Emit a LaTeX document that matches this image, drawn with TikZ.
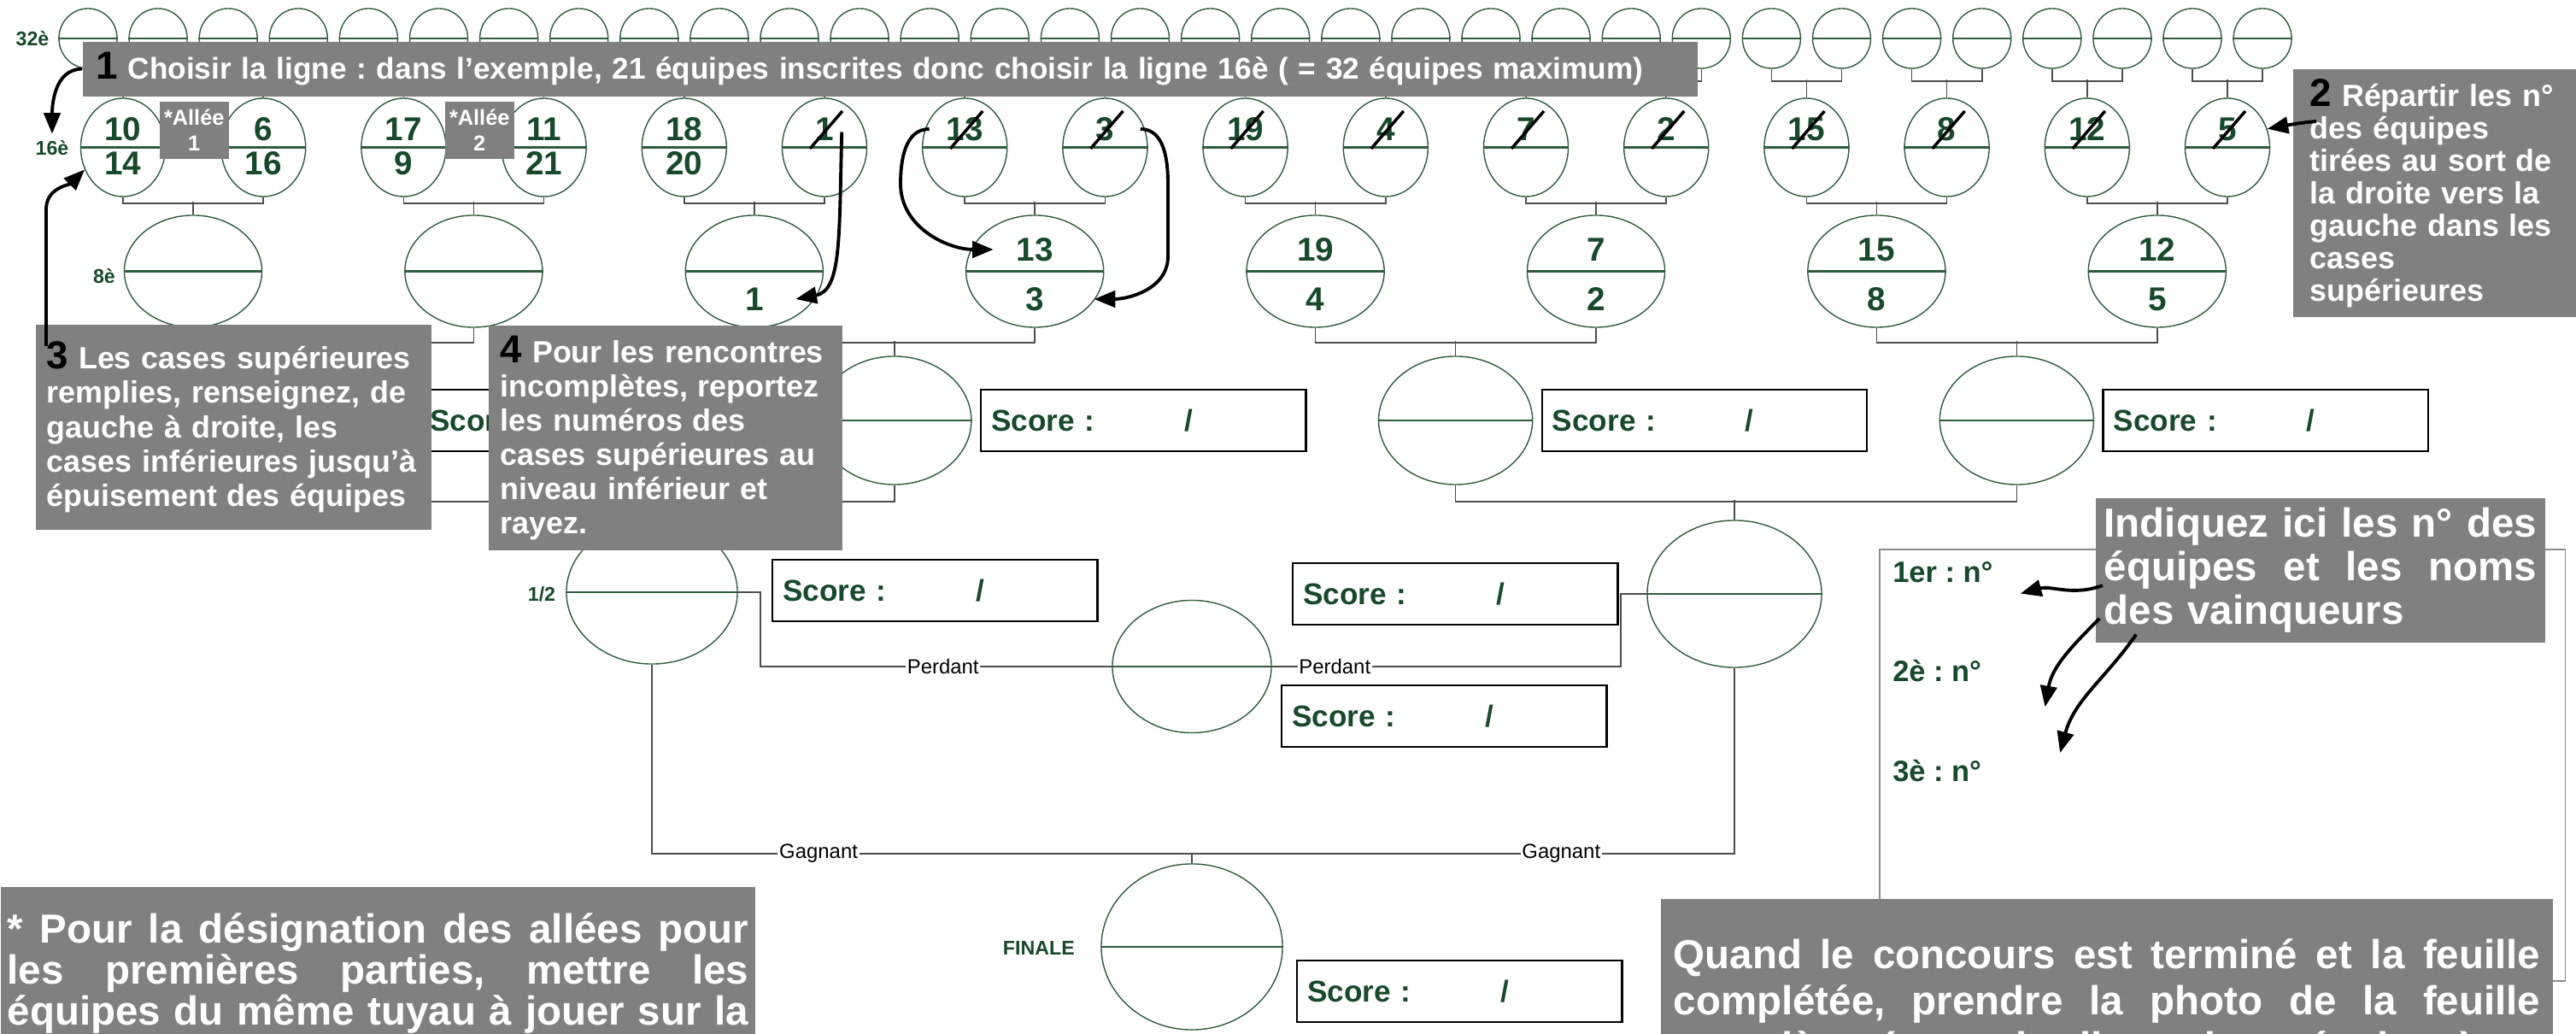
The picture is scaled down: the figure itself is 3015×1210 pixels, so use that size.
\documentclass[tikz,border=0pt]{standalone}
\usepackage{fontspec}
\setmainfont{Liberation Sans}
\usepackage{xcolor}
\usepackage{tikz}
\usetikzlibrary{shapes.geometric,arrows.meta,calc}
\frenchspacing

\definecolor{vert}{HTML}{17492A}
\definecolor{trait}{HTML}{2E5C3C}
\definecolor{fond}{HTML}{808080}
\newcommand{\chiffre}[1]{{\fontsize{13}{13}\selectfont\color{black}#1}}
\newcommand{\jl}[2]{\noindent\hbox to #1{\spaceskip=0.278em plus 1fil\relax #2}}

\tikzset{
  oeuf/.style={draw=trait,line width=0.4pt,ellipse,inner sep=0pt},
  lien/.style={draw=black!70,line width=0.45pt},
  num/.style={text=vert,font=\fontsize{11}{11}\selectfont\bfseries,inner sep=0.5pt},
  tour/.style={text=vert,font=\fontsize{6.6}{7}\selectfont\bfseries,inner sep=1pt},
  rang/.style={text=vert,font=\fontsize{9.8}{10}\selectfont\bfseries,inner sep=1pt,anchor=west},
  note/.style={fill=fond,text=white,font=\fontsize{10.2}{11}\selectfont\bfseries,align=left,anchor=north west},
  scorebox/.style={draw=black,line width=0.7pt,minimum width=3.8cm,minimum height=0.72cm,anchor=west,
    inner xsep=0.12cm,text width=3.56cm,align=left,text=vert,font=\fontsize{10}{10}\selectfont\bfseries},
  lab/.style={fill=white,font=\fontsize{6.8}{7}\selectfont,inner sep=0.5pt},
  rature/.style={line width=1pt,black},
  fleche/.style={->,line width=1.1pt,black}
}

\begin{document}
\begin{tikzpicture}[x=0.01cm,y=-0.01cm,>={Triangle[length=7pt,width=5.5pt]}]
\useasboundingbox (0,0) rectangle (3015,1210);
\clip (0,0) rectangle (3015,1210);

% les cases
\foreach \i in {0,...,31}
  \node[oeuf,minimum width=0.68cm,minimum height=0.7cm] (e32-\i) at (103+82.1*\i,45) {};
\foreach \k in {0,...,15}
  \node[oeuf,minimum width=0.99cm,minimum height=1.15cm] (e16-\k) at (144+164.2*\k,172.5) {};
\foreach \k in {0,...,7}
  \node[oeuf,minimum width=1.61cm,minimum height=1.31cm] (e8-\k) at (226+328.4*\k,317.5) {};
\foreach \k in {0,...,3}
  \node[oeuf,minimum width=1.8cm,minimum height=1.5cm] (e4-\k) at (390+656.8*\k,492) {};
\node[oeuf,minimum width=2cm,minimum height=1.68cm] (demi1) at (763,693) {};
\node[oeuf,minimum width=2.04cm,minimum height=1.72cm] (demi2) at (2030,695) {};
\node[oeuf,minimum width=1.86cm,minimum height=1.55cm] (petite) at (1395,780) {};
\node[oeuf,minimum width=2.12cm,minimum height=1.94cm] (finale) at (1395,1108) {};

\foreach \i in {0,...,31} \draw[trait,line width=0.6pt] (e32-\i.west) -- (e32-\i.east);
\foreach \k in {0,...,15} \draw[trait,line width=0.6pt] (e16-\k.west) -- (e16-\k.east);
\foreach \k in {0,...,7} \draw[trait,line width=0.6pt] (e8-\k.west) -- (e8-\k.east);
\foreach \k in {0,...,3} \draw[trait,line width=0.6pt] (e4-\k.west) -- (e4-\k.east);
\foreach \n in {demi1,demi2,petite,finale} \draw[trait,line width=0.6pt] (\n.west) -- (\n.east);

% les liens
\foreach \k [evaluate=\k as \ga using int(2*\k), evaluate=\k as \dr using int(2*\k+1)] in {0,...,15}{
  \draw[lien] (e32-\ga.south) -- ++(0,14) -| (e32-\dr.south);
  \draw[lien] (e16-\k.north) -- ++(0,-21);
}
\foreach \k [evaluate=\k as \ga using int(2*\k), evaluate=\k as \dr using int(2*\k+1)] in {0,...,7}{
  \draw[lien] (e16-\ga.south) -- ++(0,7) -| (e16-\dr.south);
  \draw[lien] (e8-\k.north) -- ++(0,-15);
}
\foreach \k [evaluate=\k as \ga using int(2*\k), evaluate=\k as \dr using int(2*\k+1)] in {0,...,3}{
  \draw[lien] (e8-\ga.south) -- ++(0,17) -| (e8-\dr.south);
  \draw[lien] (e4-\k.north) -- ++(0,-17);
}
\draw[lien] (e4-0.south) -- ++(0,19) -| (e4-1.south);
\draw[lien] (e4-2.south) -- ++(0,19) -| (e4-3.south);
\draw[lien] (demi1.north) -- ++(0,-23);
\draw[lien] (demi2.north) -- ++(0,-23);
\draw[lien] (demi1.east) -- ++(26,0) |- node[lab,pos=0.76] (perd1) {Perdant} (petite.west);
\draw[lien] (demi2.west) -- ++(-30,0) |- node[lab,pos=0.91] (perd2) {Perdant} (petite.east);
\draw[lien] (demi1.south) -- ++(0,221) -| node[lab,pos=0.077] (gagn1) {Gagnant}
  node[lab,pos=0.42] (gagn2) {Gagnant} (demi2.south);
\draw[lien] (finale.north) -- ++(0,-12);

% numeros
\foreach \k/\haut/\bas in {0/10/14,1/6/16,2/17/9,3/11/21,4/18/20}{
  \node[num] (h16-\k) at (144+164.2*\k,151) {\haut};
  \node[num] (b16-\k) at (144+164.2*\k,191) {\bas};
}
\foreach \k/\haut in {5/1,6/13,7/3,8/19,9/4,10/7,11/2,12/15,13/8,14/12,15/5}{
  \node[num] (h16-\k) at (144+164.2*\k,151) {\haut};
  \draw[rature] (144+164.2*\k-17,174) -- (144+164.2*\k+21,130);
}
\node[num] (b8-2) at (883,350) {1};
\foreach \k/\haut/\bas in {3/13/3,4/19/4,5/7/2,6/15/8,7/12/5}{
  \node[num] (h8-\k) at (226+328.4*\k,292) {\haut};
  \node[num] (b8-\k) at (226+328.4*\k,350) {\bas};
}

\node[tour] (t32) at (38,45) {32è};
\node[tour] (t16) at (61,173) {16è};
\node[tour] (t8) at (122,323) {8è};
\node[tour] (tdemi) at (634,695) {1/2};
\node[tour,anchor=east] (tfin) at (1262,1110) {FINALE};

% scores
\foreach \k in {0,...,3}
  \node[scorebox] (sc\k) at ($(e4-\k)+(100,0)$) {\makebox[2.26cm][l]{Score :}/};
\node[scorebox] (scd1) at (903,691) {\makebox[2.26cm][l]{Score :}/};
\node[scorebox] (scd2) at (1512,695) {\makebox[2.26cm][l]{Score :}/};
\node[scorebox] (scpf) at (1499,838) {\makebox[2.26cm][l]{Score :}/};
\node[scorebox] (scf) at (1517,1160) {\makebox[2.26cm][l]{Score :}/};

% resultats
\node[draw=black!45,line width=0.5pt,minimum width=8.02cm,minimum height=5.05cm,anchor=north west] (res) at (2199,642) {};
\node[rang] (r1) at (2211,670) {1er : n°};
\node[rang] (r2) at (2211,785) {2è : n°};
\node[rang] (r3) at (2211,902) {3è : n°};

% les consignes
\node[note,align=center,font=\fontsize{7.2}{8.6}\selectfont\bfseries,minimum width=0.81cm,minimum height=0.67cm,inner sep=0pt] (allee1) at (186,118) {*Allée\\1};
\node[note,align=center,font=\fontsize{7.2}{8.6}\selectfont\bfseries,minimum width=0.81cm,minimum height=0.67cm,inner sep=0pt] (allee2) at (520,118) {*Allée\\2};
\node[note,minimum width=18.89cm,minimum height=0.64cm,inner xsep=0.16cm,text width=18.57cm,font=\fontsize{10}{11}\selectfont\bfseries] (etape1) at (96,48)
  {\chiffre{1} Choisir la ligne : dans l’exemple, 21 équipes inscrites donc choisir la ligne 16è ( = 32 équipes maximum)};
\node[note,minimum width=3.32cm,minimum height=2.82cm,inner xsep=0.2cm,text width=2.92cm,font=\fontsize{10.2}{10.8}\selectfont\bfseries] (etape2) at (2683,80)
  {\chiffre{2} Répartir les n°\\des équipes\\tirées au sort de\\la droite vers la\\gauche dans les\\cases\\supérieures};
\node[note,minimum width=4.63cm,minimum height=2.4cm,inner xsep=0.13cm,text width=4.37cm,font=\fontsize{10.2}{11.5}\selectfont\bfseries] (etape3) at (41,379)
  {\chiffre{3} Les cases supérieures\\remplies, renseignez, de\\gauche à droite, les\\cases inférieures jusqu’à\\épuisement des équipes};
\node[note,minimum width=4.14cm,minimum height=2.63cm,inner xsep=0.14cm,text width=3.86cm,font=\fontsize{10.2}{11.4}\selectfont\bfseries] (etape4) at (571,380)
  {\chiffre{4} Pour les rencontres\\incomplètes, reportez\\les numéros des\\cases supérieures au\\niveau inférieur et\\rayez.};
\node[note,minimum width=5.26cm,minimum height=1.65cm,inner xsep=0.1cm,text width=5.06cm,font=\fontsize{13.5}{14.5}\selectfont\bfseries] (indiq) at (2452,582)
  {\jl{5.06cm}{Indiquez ici les n° des}\\\jl{5.06cm}{équipes et les noms}\\des vainqueurs};
\node[note,minimum width=8.83cm,minimum height=2.02cm,inner xsep=0.08cm,text width=8.67cm,font=\fontsize{13.5}{13.7}\selectfont\bfseries] (allees) at (0,1037)
  {\jl{8.67cm}{* Pour la désignation des allées pour}\\\jl{8.67cm}{les premières parties, mettre les}\\\jl{8.67cm}{équipes du même tuyau à jouer sur la}};
\node[note,minimum width=10.44cm,minimum height=2.46cm,inner xsep=0.15cm,text width=10.14cm,font=\fontsize{13.5}{15.4}\selectfont\bfseries] (photo) at (1943,1051)
  {\jl{10.14cm}{Quand le concours est terminé et la feuille}\\\jl{10.14cm}{complétée, prendre la photo de la feuille}\\\jl{10.14cm}{complète (avec la liste des résultats) et}};

% fleches
\draw[fleche] (etape1.west) to[out=180,in=90] ([yshift=1pt]t16.north);
\draw[fleche] ($(etape2.north west)+(28,62)$) to[out=185,in=10] (e16-15.25);
\draw[fleche] ($(etape3.north west)+(13,26)$) -- ++(0,-160) to[out=90,in=225] (e16-0.210);
\draw[fleche] ([xshift=2pt,yshift=-1pt]h16-5.east) .. controls (982,280) and (985,340) .. ([xshift=10pt]b8-2.east);
\draw[fleche] ([xshift=-5pt]h16-6.west) to[out=180,in=90] (1054,215) to[out=-90,in=180] ([xshift=-7pt]h8-3.west);
\draw[fleche] ([xshift=8pt]h16-7.east) to[out=0,in=90] (1367,215) -- (1367,300) to[out=-90,in=0] ([xshift=16pt]b8-3.east);
\draw[fleche] ([xshift=2.5pt,yshift=-5pt]indiq.west) to[out=200,in=15] ([xshift=8pt,yshift=-7pt]r1.east);
\draw[fleche] ([xshift=1.5pt,yshift=-16pt]indiq.west) to[out=225,in=80] ([xshift=20pt,yshift=-12pt]r2.east);
\draw[fleche] ([xshift=13.7pt,yshift=3pt]indiq.south west) to[out=235,in=75] ([xshift=25pt,yshift=6pt]r3.east);
\end{tikzpicture}
\end{document}
